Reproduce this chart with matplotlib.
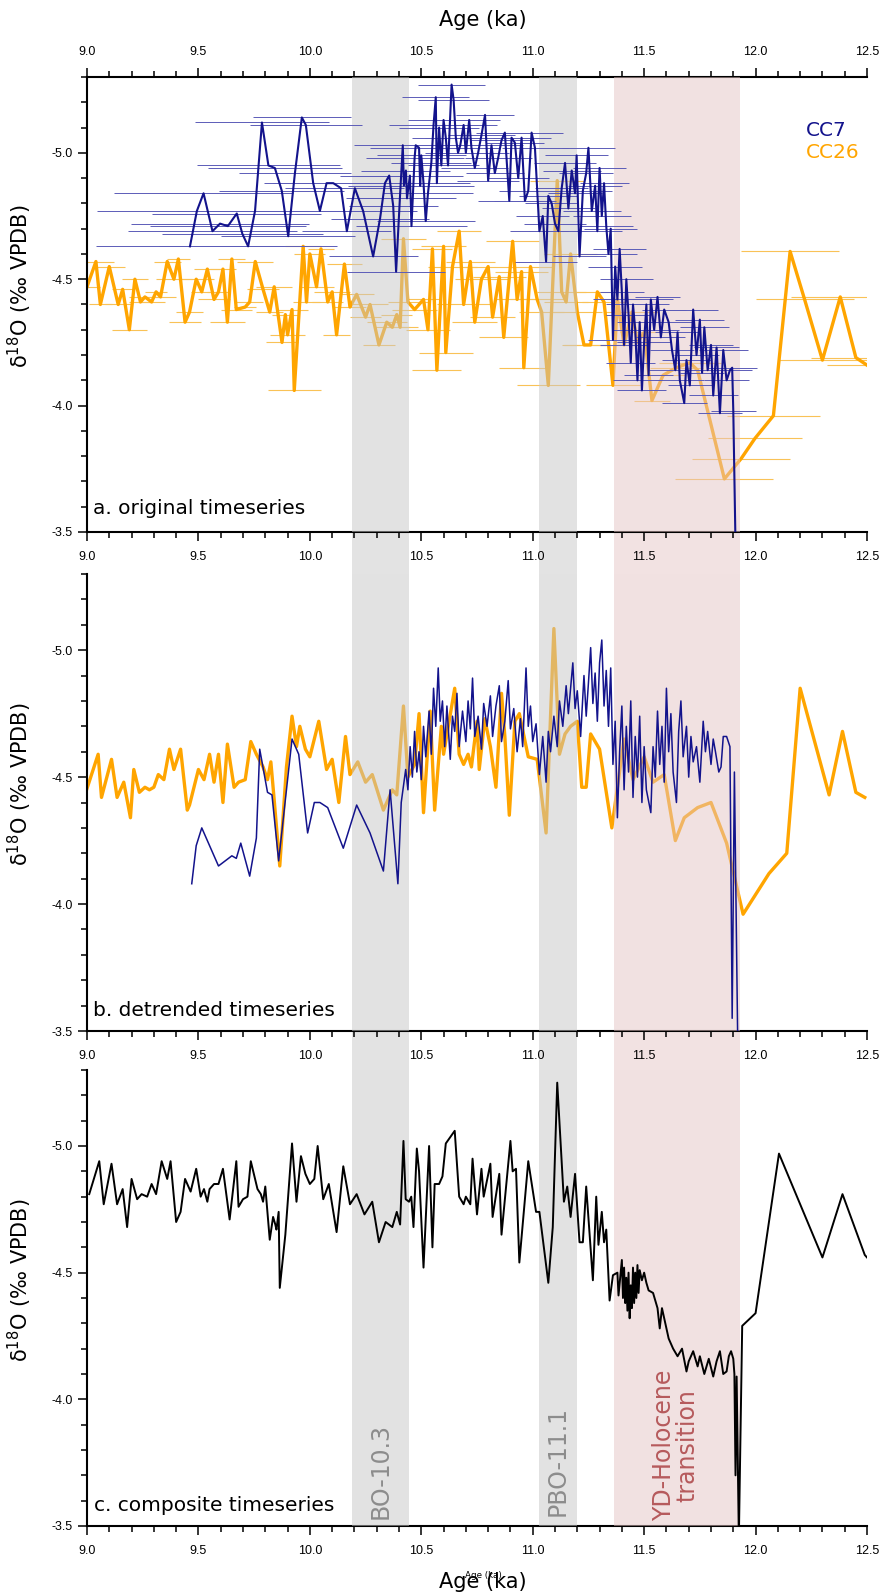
import matplotlib
matplotlib.use('Agg')
import matplotlib.pyplot as plt
from matplotlib.patches import Rectangle
from matplotlib.ticker import MultipleLocator, FormatStrFormatter
from matplotlib.transforms import blended_transform_factory

plt.rcParams['axes.unicode_minus'] = False

# ---- panel a: original timeseries ----
cc7_age = [9.462, 9.493, 9.523, 9.563, 9.597, 9.632, 9.672, 9.697, 9.723, 9.754,
           9.785, 9.814, 9.843, 9.874, 9.903, 9.933, 9.964, 9.982, 10.015, 10.045,
           10.075, 10.105, 10.14, 10.166, 10.202, 10.239, 10.284, 10.315, 10.337, 10.356,
           10.374, 10.387, 10.404, 10.417, 10.422, 10.431, 10.436, 10.449, 10.456, 10.47,
           10.475, 10.49, 10.495, 10.50, 10.51, 10.52, 10.53, 10.545, 10.555, 10.565,
           10.57, 10.58, 10.59, 10.60, 10.61, 10.62, 10.636, 10.645, 10.655, 10.665,
           10.675, 10.69, 10.70, 10.715, 10.725, 10.74, 10.755, 10.77, 10.786, 10.80,
           10.815, 10.83, 10.845, 10.86, 10.875, 10.895, 10.905, 10.92, 10.935, 10.95,
           10.965, 10.98, 10.995, 11.01, 11.03, 11.045, 11.06, 11.07, 11.085, 11.10,
           11.115, 11.13, 11.145, 11.16, 11.175, 11.19, 11.197, 11.21, 11.225, 11.24,
           11.25, 11.265, 11.28, 11.29, 11.30, 11.31, 11.32, 11.33, 11.34, 11.35,
           11.36, 11.37, 11.38, 11.39, 11.40, 11.41, 11.42, 11.43, 11.44, 11.45,
           11.46, 11.47, 11.48, 11.49, 11.50, 11.51, 11.52, 11.53, 11.545, 11.56,
           11.575, 11.59, 11.61, 11.625, 11.64, 11.65, 11.66, 11.68, 11.69, 11.705,
           11.72, 11.735, 11.75, 11.76, 11.77, 11.785, 11.80, 11.81, 11.825, 11.84,
           11.855, 11.87, 11.885, 11.895, 11.90, 11.91]
cc7_d18o = [-4.63, -4.77, -4.84, -4.69, -4.72, -4.71, -4.76, -4.68, -4.63, -4.77,
            -5.12, -4.95, -4.94, -4.85, -4.67, -4.92, -5.14, -5.11, -4.88, -4.77,
            -4.88, -4.88, -4.86, -4.69, -4.86, -4.77, -4.59, -4.74, -4.88, -4.91,
            -4.79, -4.53, -4.82, -5.03, -4.87, -4.93, -4.82, -4.91, -4.71, -4.98,
            -5.03, -5.02, -4.87, -4.99, -4.88, -4.73, -4.84, -4.96, -5.11, -5.22,
            -4.88, -5.10, -4.95, -5.13, -5.06, -4.95, -5.27, -5.21, -5.06, -5.00,
            -5.03, -5.11, -5.00, -5.13, -5.02, -4.94, -5.00, -5.07, -5.15, -4.89,
            -5.03, -4.92, -4.98, -5.05, -5.08, -4.81, -5.06, -5.04, -4.90, -5.06,
            -4.81, -4.85, -5.08, -5.02, -4.69, -4.75, -4.57, -4.83, -4.80, -4.72,
            -4.69, -4.86, -4.96, -4.78, -4.93, -4.84, -4.99, -4.59, -4.85, -4.92,
            -5.02, -4.77, -4.87, -4.69, -4.94, -4.75, -4.88, -4.71, -4.60, -4.70,
            -4.26, -4.55, -4.42, -4.62, -4.45, -4.24, -4.50, -4.36, -4.17, -4.40,
            -4.30, -4.10, -4.33, -4.06, -4.25, -4.40, -4.12, -4.42, -4.30, -4.43,
            -4.27, -4.38, -4.33, -4.22, -4.14, -4.29, -4.10, -4.01, -4.18, -4.08,
            -4.38, -4.20, -4.34, -4.13, -4.31, -4.14, -4.24, -4.04, -4.23, -3.97,
            -4.22, -4.10, -4.14, -4.15, -3.98, -3.45]
cc7_err = [0.42, 0.45, 0.40, 0.38, 0.40, 0.35, 0.38, 0.36, 0.40, 0.35,
           0.30, 0.32, 0.30, 0.28, 0.30, 0.25, 0.22, 0.25, 0.22, 0.25,
           0.24, 0.22, 0.25, 0.20, 0.22, 0.24, 0.20, 0.22, 0.25, 0.22,
           0.20, 0.22, 0.24, 0.22, 0.25, 0.20, 0.22, 0.24, 0.25, 0.22,
           0.20, 0.22, 0.24, 0.20, 0.18, 0.22, 0.20, 0.18, 0.20, 0.15,
           0.15, 0.18, 0.15, 0.16, 0.15, 0.14, 0.15, 0.16, 0.14, 0.15,
           0.14, 0.15, 0.16, 0.14, 0.13, 0.15, 0.14, 0.15, 0.13, 0.14,
           0.14, 0.13, 0.15, 0.14, 0.13, 0.14, 0.15, 0.13, 0.14, 0.13,
           0.14, 0.13, 0.14, 0.15, 0.13, 0.12, 0.14, 0.13, 0.12, 0.14,
           0.13, 0.12, 0.14, 0.12, 0.13, 0.12, 0.14, 0.12, 0.13, 0.12,
           0.12, 0.13, 0.12, 0.11, 0.12, 0.13, 0.11, 0.12, 0.13, 0.12,
           0.11, 0.12, 0.11, 0.12, 0.10, 0.11, 0.12, 0.10, 0.11, 0.12,
           0.10, 0.11, 0.10, 0.11, 0.12, 0.10, 0.11, 0.10, 0.11, 0.10,
           0.11, 0.10, 0.11, 0.10, 0.12, 0.10, 0.11, 0.10, 0.11, 0.10,
           0.11, 0.10, 0.11, 0.10, 0.11, 0.10, 0.10, 0.11, 0.10, 0.10,
           0.11, 0.10, 0.10, 0.11, 0.10, 0.10]

cc26_age = [9.00, 9.04, 9.06, 9.10, 9.14, 9.16, 9.19, 9.215, 9.24, 9.26,
            9.29, 9.31, 9.33, 9.36, 9.39, 9.41, 9.44, 9.46, 9.49, 9.515,
            9.54, 9.57, 9.59, 9.61, 9.63, 9.65, 9.67, 9.71, 9.73, 9.755,
            9.79, 9.82, 9.84, 9.875, 9.89, 9.90, 9.92, 9.93, 9.97, 9.985,
            10.00, 10.03, 10.05, 10.08, 10.10, 10.12, 10.155, 10.18, 10.21, 10.25,
            10.27, 10.31, 10.345, 10.37, 10.39, 10.405, 10.42, 10.44, 10.47, 10.51,
            10.53, 10.55, 10.57, 10.60, 10.61, 10.64, 10.67, 10.69, 10.72, 10.74,
            10.77, 10.80, 10.82, 10.85, 10.87, 10.91, 10.93, 10.95, 10.96, 10.99,
            11.02, 11.04, 11.07, 11.11, 11.13, 11.15, 11.17, 11.20, 11.23, 11.26,
            11.29, 11.32, 11.36, 11.38, 11.41, 11.445, 11.47, 11.50, 11.535, 11.585,
            11.645, 11.705, 11.74, 11.86, 11.935, 11.997, 12.08, 12.155, 12.22, 12.30,
            12.38, 12.45, 12.50]
cc26_d18o = [-4.47, -4.57, -4.40, -4.55, -4.40, -4.46, -4.30, -4.50, -4.41, -4.43,
             -4.41, -4.45, -4.43, -4.57, -4.50, -4.58, -4.33, -4.37, -4.50, -4.45,
             -4.54, -4.42, -4.45, -4.54, -4.33, -4.58, -4.38, -4.39, -4.41, -4.57,
             -4.46, -4.37, -4.47, -4.25, -4.36, -4.28, -4.38, -4.06, -4.63, -4.41,
             -4.60, -4.47, -4.62, -4.41, -4.45, -4.28, -4.56, -4.39, -4.44, -4.35,
             -4.40, -4.24, -4.33, -4.31, -4.36, -4.31, -4.66, -4.41, -4.38, -4.42,
             -4.30, -4.62, -4.14, -4.63, -4.21, -4.55, -4.69, -4.40, -4.57, -4.33,
             -4.50, -4.55, -4.35, -4.51, -4.27, -4.65, -4.42, -4.53, -4.15, -4.55,
             -4.42, -4.37, -4.08, -4.89, -4.45, -4.41, -4.60, -4.37, -4.24, -4.24,
             -4.45, -4.41, -4.08, -4.42, -4.24, -4.37, -4.25, -4.29, -4.02, -4.12,
             -4.15, -4.17, -4.14, -3.71, -3.79, -3.87, -3.96, -4.61, -4.42, -4.18,
             -4.43, -4.19, -4.16]
cc26_err = [0.06, 0.08, 0.05, 0.07, 0.06, 0.05, 0.08, 0.06, 0.05, 0.07,
            0.06, 0.05, 0.07, 0.06, 0.08, 0.05, 0.07, 0.06, 0.08, 0.05,
            0.06, 0.07, 0.05, 0.06, 0.08, 0.06, 0.07, 0.05, 0.06, 0.08,
            0.07, 0.06, 0.08, 0.07, 0.06, 0.08, 0.07, 0.12, 0.08, 0.06,
            0.07, 0.08, 0.06, 0.07, 0.08, 0.06, 0.08, 0.07, 0.08, 0.07,
            0.08, 0.07, 0.09, 0.08, 0.07, 0.08, 0.10, 0.09, 0.10, 0.08,
            0.10, 0.09, 0.11, 0.10, 0.12, 0.11, 0.10, 0.12, 0.11, 0.10,
            0.12, 0.11, 0.10, 0.12, 0.11, 0.12, 0.10, 0.12, 0.11, 0.10,
            0.12, 0.10, 0.14, 0.12, 0.11, 0.10, 0.12, 0.11, 0.10, 0.12,
            0.11, 0.10, 0.12, 0.10, 0.11, 0.12, 0.10, 0.11, 0.08, 0.10,
            0.12, 0.14, 0.12, 0.22, 0.22, 0.21, 0.21, 0.22, 0.22, 0.20,
            0.22, 0.20, 0.18]

# ---- panel b: detrended timeseries ----
cc7b_age = [9.47, 9.49, 9.515, 9.59, 9.65, 9.67, 9.69, 9.73, 9.76, 9.775,
            9.81, 9.83, 9.86, 9.92, 9.95, 9.99, 10.02, 10.045, 10.08, 10.15,
            10.21, 10.27, 10.33, 10.36, 10.395, 10.41, 10.43, 10.44, 10.45, 10.46,
            10.47, 10.48, 10.49, 10.50, 10.51, 10.52, 10.535, 10.545, 10.555, 10.565,
            10.576, 10.585, 10.595, 10.605, 10.615, 10.63, 10.64, 10.65, 10.66, 10.67,
            10.685, 10.70, 10.71, 10.72, 10.73, 10.74, 10.755, 10.77, 10.78, 10.795,
            10.81, 10.82, 10.835, 10.85, 10.86, 10.875, 10.89, 10.90, 10.915, 10.93,
            10.945, 10.955, 10.97, 10.98, 10.99, 11.00, 11.015, 11.03, 11.045, 11.06,
            11.07, 11.08, 11.095, 11.11, 11.12, 11.135, 11.15, 11.16, 11.18, 11.19,
            11.20, 11.215, 11.23, 11.24, 11.25, 11.26, 11.27, 11.28, 11.29, 11.30,
            11.31, 11.32, 11.33, 11.34, 11.35, 11.36, 11.37, 11.38, 11.39, 11.40,
            11.41, 11.42, 11.43, 11.44, 11.45, 11.46, 11.47, 11.48, 11.49, 11.50,
            11.51, 11.53, 11.54, 11.55, 11.56, 11.57, 11.58, 11.59, 11.60, 11.61,
            11.62, 11.63, 11.645, 11.655, 11.665, 11.675, 11.69, 11.70, 11.71, 11.72,
            11.735, 11.75, 11.765, 11.775, 11.785, 11.80, 11.81, 11.82, 11.835, 11.845,
            11.855, 11.87, 11.885, 11.895, 11.905, 11.92]
cc7b_d18o = [-4.08, -4.23, -4.30, -4.15, -4.19, -4.18, -4.24, -4.11, -4.26, -4.61,
             -4.44, -4.43, -4.17, -4.65, -4.59, -4.28, -4.40, -4.40, -4.38, -4.22,
             -4.39, -4.28, -4.13, -4.45, -4.08, -4.40, -4.53, -4.45, -4.62, -4.50,
             -4.68, -4.52, -4.60, -4.49, -4.70, -4.58, -4.76, -4.59, -4.85, -4.70,
             -4.93, -4.72, -4.80, -4.62, -4.78, -4.57, -4.74, -4.68, -4.83, -4.62,
             -4.76, -4.64, -4.80, -4.69, -4.89, -4.66, -4.74, -4.61, -4.79, -4.70,
             -4.82, -4.66, -4.78, -4.86, -4.64, -4.72, -4.88, -4.69, -4.77, -4.60,
             -4.73, -4.62, -4.93, -4.70, -4.78, -4.64, -4.71, -4.51, -4.66, -4.48,
             -4.68, -4.60, -4.74, -4.62, -4.80, -4.70, -4.86, -4.75, -4.95, -4.77,
             -4.84, -4.66, -4.90, -4.74, -4.87, -5.01, -4.79, -4.91, -4.72, -4.95,
             -5.04, -4.78, -4.92, -4.70, -4.93, -4.55, -4.72, -4.34, -4.60, -4.78,
             -4.45, -4.70, -4.52, -4.80, -4.42, -4.66, -4.50, -4.74, -4.40, -4.62,
             -4.45, -4.36, -4.62, -4.50, -4.76, -4.55, -4.70, -4.48, -4.85, -4.60,
             -4.75, -4.52, -4.40, -4.68, -4.80, -4.58, -4.70, -4.50, -4.66, -4.56,
             -4.62, -4.48, -4.72, -4.60, -4.68, -4.55, -4.65, -4.60, -4.52, -4.54,
             -4.66, -4.66, -4.62, -3.55, -4.52, -3.45]

cc26b_age = [9.00, 9.05, 9.065, 9.11, 9.135, 9.165, 9.195, 9.21, 9.235, 9.26,
             9.28, 9.30, 9.32, 9.345, 9.37, 9.39, 9.42, 9.45, 9.46, 9.50,
             9.525, 9.55, 9.57, 9.59, 9.61, 9.63, 9.66, 9.68, 9.71, 9.735,
             9.76, 9.79, 9.81, 9.825, 9.84, 9.865, 9.895, 9.92, 9.94, 9.955,
             9.98, 10.00, 10.04, 10.075, 10.10, 10.13, 10.16, 10.18, 10.215, 10.25,
             10.28, 10.33, 10.37, 10.39, 10.42, 10.44, 10.47, 10.49, 10.51, 10.54,
             10.56, 10.59, 10.60, 10.65, 10.67, 10.69, 10.71, 10.725, 10.75, 10.76,
             10.785, 10.81, 10.835, 10.86, 10.875, 10.895, 10.92, 10.94, 10.98, 11.02,
             11.06, 11.095, 11.12, 11.145, 11.17, 11.20, 11.22, 11.24, 11.26, 11.30,
             11.355, 11.41, 11.45, 11.50, 11.54, 11.59, 11.64, 11.68, 11.74, 11.80,
             11.87, 11.944, 12.06, 12.14, 12.20, 12.33, 12.39, 12.45, 12.49]
cc26b_d18o = [-4.455, -4.59, -4.42, -4.57, -4.42, -4.48, -4.34, -4.53, -4.44, -4.46,
              -4.45, -4.46, -4.51, -4.49, -4.61, -4.53, -4.61, -4.37, -4.39, -4.53,
              -4.49, -4.59, -4.48, -4.59, -4.40, -4.63, -4.46, -4.48, -4.49, -4.64,
              -4.59, -4.54, -4.49, -4.56, -4.41, -4.15, -4.54, -4.74, -4.62, -4.70,
              -4.61, -4.58, -4.72, -4.53, -4.57, -4.40, -4.66, -4.51, -4.56, -4.48,
              -4.51, -4.37, -4.45, -4.43, -4.78, -4.50, -4.55, -4.75, -4.36, -4.76,
              -4.37, -4.70, -4.59, -4.85, -4.59, -4.55, -4.59, -4.54, -4.72, -4.53,
              -4.73, -4.62, -4.46, -4.83, -4.66, -4.35, -4.72, -4.75, -4.58, -4.57,
              -4.28, -5.085, -4.59, -4.67, -4.70, -4.72, -4.46, -4.46, -4.67, -4.61,
              -4.30, -4.65, -4.49, -4.58, -4.48, -4.51, -4.25, -4.34, -4.38, -4.40,
              -4.24, -3.96, -4.12, -4.20, -4.85, -4.43, -4.68, -4.44, -4.42]

# ---- panel c: composite timeseries ----
comp_age = [9.01, 9.055, 9.075, 9.11, 9.135, 9.16, 9.18, 9.20, 9.225, 9.245,
            9.27, 9.29, 9.31, 9.335, 9.36, 9.375, 9.40, 9.42, 9.44, 9.465,
            9.49, 9.51, 9.525, 9.54, 9.55, 9.57, 9.59, 9.61, 9.64, 9.67,
            9.68, 9.70, 9.72, 9.735, 9.765, 9.78, 9.79, 9.80, 9.82, 9.835,
            9.845, 9.85, 9.86, 9.865, 9.89, 9.92, 9.94, 9.96, 9.98, 10.00,
            10.02, 10.035, 10.06, 10.085, 10.12, 10.15, 10.18, 10.21, 10.245, 10.28,
            10.31, 10.34, 10.37, 10.39, 10.405, 10.42, 10.43, 10.445, 10.455, 10.465,
            10.48, 10.49, 10.51, 10.535, 10.55, 10.56, 10.58, 10.595, 10.61, 10.65,
            10.67, 10.69, 10.70, 10.72, 10.73, 10.75, 10.77, 10.78, 10.81, 10.82,
            10.85, 10.86, 10.90, 10.91, 10.925, 10.94, 10.98, 11.015, 11.03, 11.07,
            11.09, 11.11, 11.14, 11.155, 11.17, 11.19, 11.21, 11.225, 11.24, 11.27,
            11.285, 11.295, 11.31, 11.32, 11.33, 11.345, 11.36, 11.38, 11.385, 11.40,
            11.405, 11.41, 11.415, 11.42, 11.425, 11.43, 11.435, 11.44, 11.445, 11.45,
            11.455, 11.46, 11.465, 11.47, 11.475, 11.48, 11.49, 11.50, 11.51, 11.52,
            11.54, 11.56, 11.57, 11.58, 11.61, 11.63, 11.65, 11.67, 11.69, 11.70,
            11.72, 11.74, 11.75, 11.77, 11.79, 11.81, 11.825, 11.84, 11.855, 11.87,
            11.88, 11.89, 11.90, 11.905, 11.91, 11.915, 11.925, 11.94, 12.00, 12.105,
            12.30, 12.39, 12.49, 12.50]
comp_d18o = [-4.81, -4.94, -4.77, -4.93, -4.77, -4.83, -4.68, -4.87, -4.79, -4.81,
             -4.80, -4.85, -4.81, -4.94, -4.87, -4.94, -4.70, -4.74, -4.87, -4.82,
             -4.91, -4.80, -4.83, -4.78, -4.83, -4.85, -4.85, -4.91, -4.71, -4.94,
             -4.76, -4.79, -4.80, -4.94, -4.83, -4.81, -4.78, -4.84, -4.63, -4.72,
             -4.69, -4.67, -4.74, -4.44, -4.65, -5.01, -4.78, -4.96, -4.89, -4.85,
             -4.87, -5.00, -4.79, -4.85, -4.66, -4.92, -4.77, -4.81, -4.73, -4.78,
             -4.62, -4.70, -4.68, -4.74, -4.69, -5.02, -4.79, -4.78, -4.80, -4.68,
             -4.99, -4.90, -4.52, -5.00, -4.60, -4.85, -4.85, -4.88, -5.01, -5.06,
             -4.80, -4.77, -4.80, -4.77, -4.95, -4.73, -4.91, -4.80, -4.93, -4.72,
             -4.89, -4.65, -5.02, -4.90, -4.91, -4.54, -4.94, -4.74, -4.74, -4.46,
             -4.68, -5.25, -4.78, -4.84, -4.72, -4.89, -4.62, -4.62, -4.84, -4.47,
             -4.80, -4.61, -4.74, -4.62, -4.67, -4.39, -4.49, -4.50, -4.41, -4.55,
             -4.40, -4.52, -4.38, -4.48, -4.35, -4.50, -4.32, -4.45, -4.36, -4.52,
             -4.38, -4.50, -4.40, -4.53, -4.42, -4.51, -4.47, -4.50, -4.46, -4.43,
             -4.42, -4.36, -4.28, -4.36, -4.24, -4.20, -4.17, -4.20, -4.11, -4.15,
             -4.19, -4.13, -4.17, -4.10, -4.16, -4.09, -4.15, -4.19, -4.10, -4.11,
             -4.17, -4.19, -4.16, -4.10, -3.70, -4.09, -3.45, -4.29, -4.34, -4.97,
             -4.56, -4.81, -4.57, -4.56]

# shaded intervals (ka)
bands = [(10.19, 10.445), (11.028, 11.198), (11.364, 11.93)]
band_names = ['BO-10.3', 'PBO-11.1', 'YD-Holocene\ntransition']

NAVY = '#13138c'
ORANGE = '#ffa500'
band_fill = ['#c7c7c7', '#c7c7c7', '#e5c5c5']   # drawn at alpha 0.5
band_seen = ['#e3e3e3', '#e3e3e3', '#f2e2e2']   # same colour as it appears on white

fig = plt.figure(figsize=(8.85, 15.93), dpi=100)


def box(top, bot):
    return [87 / 885, 1 - bot / 1593, 780 / 885, (bot - top) / 1593]


ax_a = fig.add_axes(box(77, 532))
ax_b = fig.add_axes(box(574, 1031))
ax_c = fig.add_axes(box(1070, 1526))


def style(ax, top=False):
    ax.set_xlim(9.0, 12.5)
    ax.set_ylim(-3.5, -5.3)
    ax.xaxis.set_major_locator(MultipleLocator(0.5))
    ax.xaxis.set_minor_locator(MultipleLocator(0.1))
    ax.yaxis.set_major_locator(MultipleLocator(0.5))
    ax.yaxis.set_minor_locator(MultipleLocator(0.1))
    ax.xaxis.set_major_formatter(FormatStrFormatter('%.1f'))
    ax.yaxis.set_major_formatter(FormatStrFormatter('%.1f'))
    ax.spines['right'].set_visible(False)
    ax.spines['top'].set_visible(top)
    for s in ax.spines.values():
        s.set_linewidth(1.5)
    ax.tick_params(which='both', direction='out', width=1.1, right=False,
                   top=top, labeltop=top)
    ax.tick_params(which='major', length=6.5)
    ax.tick_params(which='minor', length=4.5)
    ax.tick_params(axis='x', pad=7)
    ax.tick_params(axis='y', pad=4)
    for lab in ax.get_xticklabels() + ax.get_yticklabels():
        lab.set_fontfamily('Liberation Sans')
        lab.set_fontsize(9)
    ax.set_ylabel('δ$^{18}$O (‰ VPDB)', fontsize=15, family='DejaVu Sans')
    ax.yaxis.set_label_coords(-0.068, 0.54)
    for (x0, x1), c in zip(bands, band_fill):
        ax.axvspan(x0, x1, color=c, alpha=0.5, lw=0, zorder=3)


style(ax_a, top=True)
style(ax_b)
style(ax_c)

# bands continue through the gaps between panels
for upper, lower in [(ax_a, ax_b), (ax_b, ax_c)]:
    tr = blended_transform_factory(upper.transData, fig.transFigure)
    y0 = lower.get_position().y1
    y1 = upper.get_position().y0
    for (x0, x1), c in zip(bands, band_seen):
        fig.add_artist(Rectangle((x0, y0), x1 - x0, y1 - y0, transform=tr,
                                 facecolor=c, lw=0, zorder=-1))

# panel a
ax_a.errorbar(cc26_age, cc26_d18o, xerr=cc26_err, fmt='none', ecolor='#f9c257',
              elinewidth=0.8, capsize=0, zorder=1)
ax_a.plot(cc26_age, cc26_d18o, color=ORANGE, lw=2.4, zorder=2)
ax_a.errorbar(cc7_age, cc7_d18o, xerr=cc7_err, fmt='none', ecolor='#5c5cb8',
              elinewidth=0.7, capsize=0, zorder=4)
ax_a.plot(cc7_age, cc7_d18o, color=NAVY, lw=1.5, zorder=5)
ax_a.text(0.922, 0.8835, 'CC7', transform=ax_a.transAxes, color=NAVY,
          fontsize=14.5, va='center')
ax_a.text(0.922, 0.835, 'CC26', transform=ax_a.transAxes, color=ORANGE,
          fontsize=14.5, va='center')
ax_a.text(0.008, 0.04, 'a. original timeseries', transform=ax_a.transAxes,
          fontsize=14.5, va='baseline', zorder=6)

# panel b
ax_b.plot(cc26b_age, cc26b_d18o, color=ORANGE, lw=2.4, zorder=2)
ax_b.plot(cc7b_age, cc7b_d18o, color=NAVY, lw=1.1, zorder=5)
ax_b.text(0.008, 0.033, 'b. detrended timeseries', transform=ax_b.transAxes,
          fontsize=14.5, va='baseline', zorder=6)

# panel c
ax_c.plot(comp_age, comp_d18o, color='black', lw=1.4, zorder=5)
ax_c.text(0.009, 0.033, 'c. composite timeseries', transform=ax_c.transAxes,
          fontsize=14.5, va='baseline', zorder=6)
ax_c.text(sum(bands[0]) / 2, -3.717, band_names[0], rotation=90, ha='center',
          va='center', fontsize=17, color='#8c8c8c', zorder=6)
ax_c.text(sum(bands[1]) / 2, -3.756, band_names[1], rotation=90, ha='center',
          va='center', fontsize=17, color='#8c8c8c', zorder=6)
ax_c.text(11.642, -3.819, band_names[2], rotation=90, ha='center',
          va='center', multialignment='center', fontsize=17,
          color='#b65a5c', zorder=6, linespacing=0.95)

fig.text(483 / 885, 1 - 20 / 1593, 'Age (ka)', ha='center', va='center', fontsize=15)
fig.text(483 / 885, 1 - 1582 / 1593, 'Age (ka)', ha='center', va='center', fontsize=15)
fig.text(483 / 885, 1 - 1576 / 1593, 'Age (ka)', ha='center', va='center', fontsize=6.3)

fig.savefig('out.png', dpi=100)
